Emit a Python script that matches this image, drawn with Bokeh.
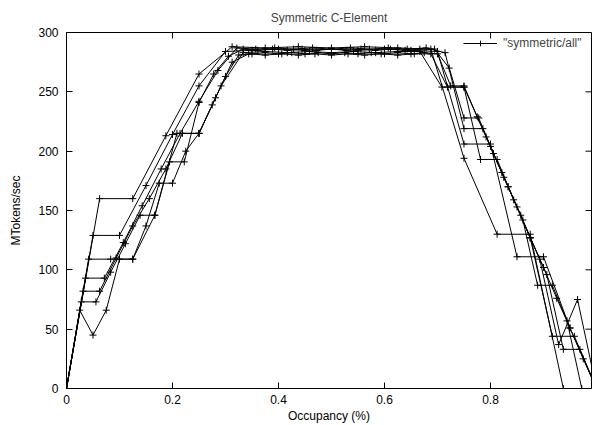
import numpy as np
from bokeh.plotting import figure
from bokeh.models import Range1d, Legend, LegendItem, FixedTicker
from bokeh.embed import file_html
from bokeh.resources import INLINE

# ---- data: throughput (MTokens/sec) for k = 0..N tokens in rings of N stages ----
ring_sizes = [16, 20, 24, 28, 32, 36, 40]

tput_16 = [0, 160, 160, 213, 265, 288, 287, 288, 287, 288, 287, 286, 194, 130, 130, 0, 0]
tput_20 = [0, 129, 129, 171, 214, 255, 284, 285, 286, 285, 286, 285, 286, 285, 284,
           206, 206, 111, 111, 51, 0]
tput_24 = [0, 109, 109, 109, 146, 215, 215, 255, 283, 284, 283, 284, 283, 284, 283,
           284, 284, 254, 254, 212, 170, 127, 44, 44, 0]
tput_28 = [0, 93, 93, 123, 154, 185, 215, 242, 268, 287, 286, 287, 286, 287, 286,
           287, 286, 287, 286, 287, 283, 219, 219, 182, 146, 109, 37, 75, 0]
tput_32 = [0, 82, 82, 110, 137, 160, 185, 215, 215, 245, 275, 282, 281, 282, 281,
           282, 281, 282, 281, 282, 281, 282, 282, 254, 254, 193, 193, 159, 127, 96,
           33, 33, 0]
tput_36 = [0, 73, 73, 98, 122, 146, 146, 191, 191, 241, 265, 280, 286, 285, 286,
           285, 286, 285, 286, 285, 286, 285, 286, 285, 286, 286, 270, 228, 228, 198,
           170, 142, 87, 87, 57, 0, 0]
tput_40 = [0, 66, 45, 66, 109, 109, 137, 173, 173, 200, 215, 239, 263, 281, 282,
           283, 282, 283, 282, 283, 282, 283, 282, 283, 282, 283, 282, 283, 282, 255,
           255, 229, 204, 178, 153, 127, 102, 76, 51, 25, 0]

series = [tput_16, tput_20, tput_24, tput_28, tput_32, tput_36, tput_40]

x_ticks = [0, 0.2, 0.4, 0.6, 0.8]
x_tick_labels = ["0", "0.2", "0.4", "0.6", "0.8"]
y_ticks = [0, 50, 100, 150, 200, 250, 300]
X_MAX = 0.9906
Y_MAX = 300

FONT = "Liberation Sans"

p = figure(width=592, height=425, x_range=Range1d(0, X_MAX), y_range=Range1d(0, Y_MAX),
           output_backend="svg", toolbar_location=None,
           min_border_left=66, min_border_right=1, min_border_top=32, min_border_bottom=37)
p.grid.visible = False
p.outline_line_color = "black"
p.outline_line_width = 1
p.outline_line_alpha = 1
p.background_fill_color = "white"
p.border_fill_color = "white"

p.title.text = "Symmetric C-Element"
p.title.align = "center"
p.title.text_font = FONT
p.title.text_font_size = "12px"
p.title.text_font_style = "normal"
p.title.standoff = 15

for ax in p.xaxis:
    ax.ticker = FixedTicker(ticks=x_ticks)
    ax.major_label_overrides = dict(zip(x_ticks, x_tick_labels))
    ax.axis_label = "Occupancy (%)"
    ax.axis_label_standoff = 2
    ax.major_label_standoff = 6
for ax in p.yaxis:
    ax.ticker = FixedTicker(ticks=y_ticks)
    ax.axis_label = "MTokens/sec"
    ax.axis_label_standoff = 12
    ax.major_label_standoff = 8

for ax in list(p.xaxis) + list(p.yaxis):
    ax.axis_line_color = None
    ax.major_tick_in = 6
    ax.major_tick_out = 0
    ax.minor_tick_line_color = None
    ax.major_tick_line_color = "black"
    ax.major_label_text_font = FONT
    ax.major_label_text_font_size = "12px"
    ax.major_label_text_color = "black"
    ax.axis_label_text_font = FONT
    ax.axis_label_text_font_size = "12px"
    ax.axis_label_text_font_style = "normal"
    ax.axis_label_text_color = "black"

# mirrored inward ticks on top and right edges (gnuplot style)
p.ray(x=x_ticks, y=[Y_MAX] * len(x_ticks), length=6, length_units="screen",
      angle=-np.pi / 2, line_color="black", line_width=1)
p.ray(x=[X_MAX] * len(y_ticks), y=y_ticks, length=6, length_units="screen",
      angle=np.pi, line_color="black", line_width=1)

legend_rs = []
for n, ys in zip(ring_sizes, series):
    xs = np.arange(n + 1) / n
    lr = p.line(xs, ys, line_color="black", line_width=1)
    sr = p.scatter(xs, ys, marker="cross", size=7, line_color="black", line_width=1)
    if not legend_rs:
        legend_rs = [lr, sr]

legend = Legend(items=[LegendItem(label='"symmetric/all"', renderers=legend_rs)],
                location=(397, 338), border_line_color=None, background_fill_alpha=0,
                label_text_font=FONT, label_text_font_size="12px",
                glyph_width=34, glyph_height=14, padding=0, margin=0, spacing=0,
                label_standoff=6)
p.add_layout(legend)

open("out.html", "w").write(file_html(p, INLINE))
